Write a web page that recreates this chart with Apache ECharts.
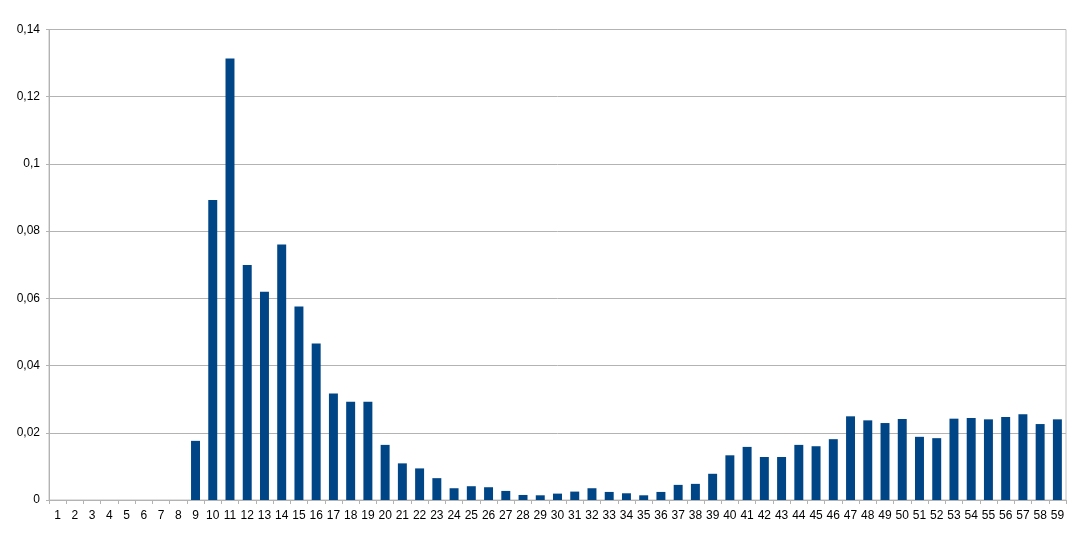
<!DOCTYPE html>
<html>
<head>
<meta charset="utf-8">
<script src="https://cdn.jsdelivr.net/npm/echarts@6/dist/echarts.min.js"></script>
<style>
  html, body { margin: 0; padding: 0; background: #fff; }
  #main { width: 1091px; height: 533px; }
</style>
</head>
<body>
<div id="main"></div>
<script>
  // categories 1..59
  var categories = ['1','2','3','4','5','6','7','8','9','10','11','12','13','14','15','16','17','18','19','20',
    '21','22','23','24','25','26','27','28','29','30','31','32','33','34','35','36','37','38','39','40',
    '41','42','43','44','45','46','47','48','49','50','51','52','53','54','55','56','57','58','59'];

  // bar values
  var values = [0, 0, 0, 0, 0, 0, 0, 0, 0.0176, 0.0893,
    0.1314, 0.0699, 0.0620, 0.0760, 0.0576, 0.0466, 0.0317, 0.0292, 0.0292, 0.0164,
    0.0109, 0.0094, 0.0065, 0.0035, 0.0041, 0.0038, 0.0027, 0.0015, 0.0014, 0.0019,
    0.0025, 0.0035, 0.0024, 0.0020, 0.0014, 0.0024, 0.0045, 0.0048, 0.0078, 0.0133,
    0.0158, 0.0128, 0.0128, 0.0164, 0.0160, 0.0181, 0.0249, 0.0237, 0.0229, 0.0241,
    0.0188, 0.0184, 0.0242, 0.0244, 0.0240, 0.0247, 0.0255, 0.0226, 0.0240];

  var myChart = echarts.init(document.getElementById('main'));
  myChart.setOption({
    animation: false,
    backgroundColor: '#ffffff',
    textStyle: { fontFamily: 'Liberation Sans' },
    grid: {
      left: 49,
      right: 25,
      top: 29.5,
      bottom: 33,
      show: true,
      borderColor: '#c0c0c0',
      borderWidth: 1
    },
    xAxis: {
      type: 'category',
      data: categories,
      axisLine: { lineStyle: { color: '#b3b3b3', width: 1 } },
      axisTick: { show: true, length: 4, lineStyle: { color: '#b3b3b3' } },
      axisLabel: { color: '#000', fontSize: 12, interval: 0, margin: 10 }
    },
    yAxis: {
      type: 'value',
      min: 0,
      max: 0.14,
      interval: 0.02,
      axisLine: { show: true, lineStyle: { color: '#b3b3b3', width: 1 } },
      axisTick: { show: true, length: 3, lineStyle: { color: '#b3b3b3' } },
      splitLine: { lineStyle: { color: '#b3b3b3', width: 1 } },
      axisLabel: {
        color: '#000',
        fontSize: 12,
        margin: 9,
        formatter: function (v) {
          return String(Math.round(v * 100) / 100).replace('.', ',');
        }
      }
    },
    series: [{
      type: 'bar',
      data: values,
      barWidth: '52%',
      itemStyle: { color: '#004586' }
    }]
  });
</script>
</body>
</html>
